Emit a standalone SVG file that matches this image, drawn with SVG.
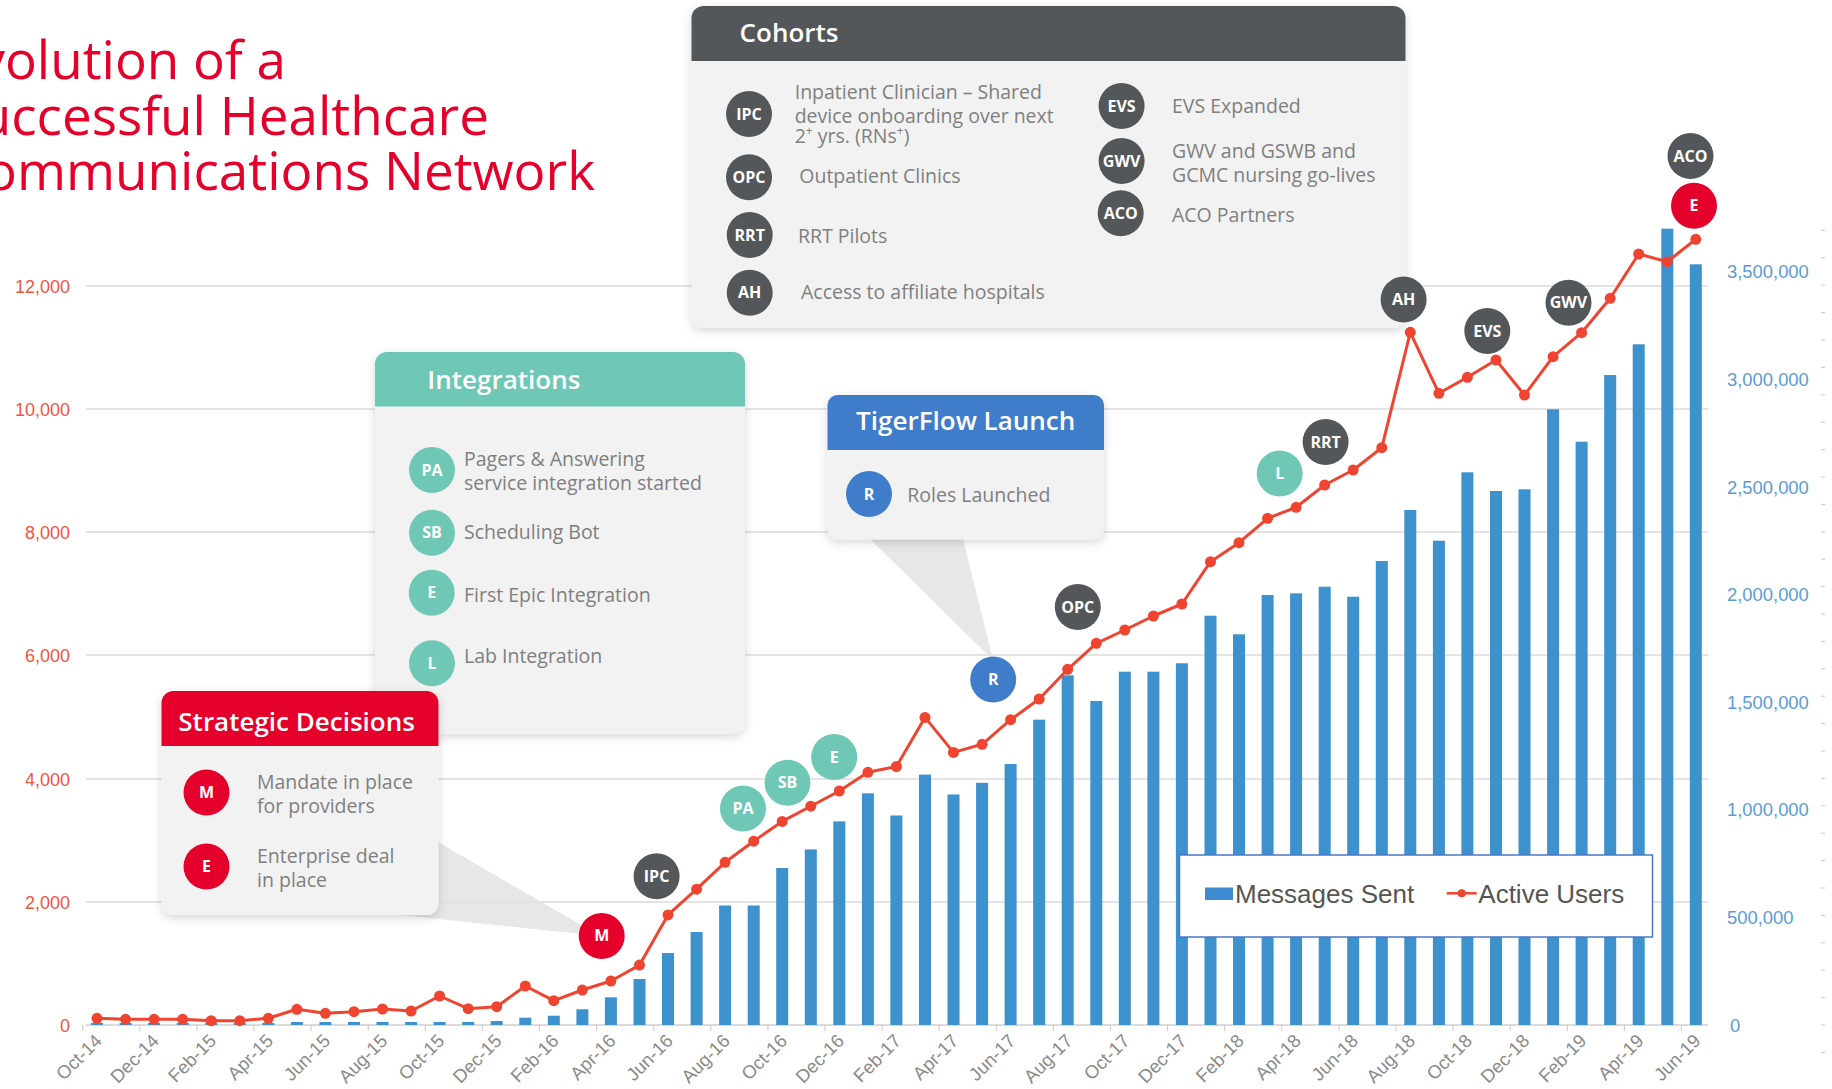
<svg xmlns="http://www.w3.org/2000/svg" width="1832" height="1089" viewBox="0 0 1832 1089">
<defs>
<style>
.grid{stroke:#dcdcdc;stroke-width:1.5;fill:none}
.bar{fill:#3d91cc}
.uline{fill:none;stroke:#ee4430;stroke-width:3;stroke-linejoin:round;marker-start:url(#dot);marker-mid:url(#dot);marker-end:url(#dot)}
.ly{font-family:"Liberation Sans",Arial,sans-serif;font-size:18px;fill:#f0553f;text-anchor:end}
.ry{font-family:"Liberation Sans",Arial,sans-serif;font-size:18.4px;fill:#5b9bd5}
.xl{font-family:"Liberation Sans",Arial,sans-serif;font-size:18.5px;fill:#8a8a8a;text-anchor:end}
.title{font-family:"Open Sans","Liberation Sans",sans-serif;font-size:53px;fill:#e4002b;text-anchor:end}
.hd{font-family:"Open Sans","Liberation Sans",sans-serif;font-size:26px;font-weight:600;fill:#fff}
.bt{font-family:"Open Sans","Liberation Sans",sans-serif;font-size:19.5px;fill:#7f7f7f}
.ml{font-family:"Open Sans","Liberation Sans",sans-serif;font-size:16px;font-weight:700;fill:#fff;text-anchor:middle}
.dk{fill:#53575a}.tl{fill:#6ec8b5}.bl{fill:#3f7cc9}.rd{fill:#e4002b}
.body{fill:#f2f2f2}
.ptr{fill:#e3e3e3;opacity:0.85}
.lg{font-family:"Liberation Sans",Arial,sans-serif;font-size:26px;fill:#555}
</style>
<marker id="dot" markerUnits="userSpaceOnUse" markerWidth="12" markerHeight="12" refX="6" refY="6" viewBox="0 0 12 12"><circle cx="6" cy="6" r="5.5" fill="#ee4430"/></marker>
<filter id="sh" x="-10%" y="-10%" width="120%" height="130%"><feDropShadow dx="0" dy="3" stdDeviation="5" flood-color="#000" flood-opacity="0.16"/></filter>
</defs>
<rect width="1832" height="1089" fill="#fff"/>

<g id="title">
<text class="title" x="286" y="79">Evolution of a</text>
<text class="title" x="489" y="135">Successful Healthcare</text>
<text class="title" x="595" y="190">Communications Network</text>
</g>

<g id="axes">
<path class="grid" d="M86 286H1708M86 409H1708M86 532H1708M86 655H1708M86 779H1708M86 902H1708"/>
<path d="M86 1025H1708" stroke="#cfcfcf" stroke-width="1.5"/>
<path d="M82.7 1025v6M139.8 1025v6M196.9 1025v6M254 1025v6M311.1 1025v6M368.2 1025v6M425.3 1025v6M482.4 1025v6M539.5 1025v6M596.6 1025v6M653.7 1025v6M710.8 1025v6M767.9 1025v6M825 1025v6M882.1 1025v6M939.2 1025v6M996.3 1025v6M1053.4 1025v6M1110.5 1025v6M1167.6 1025v6M1224.7 1025v6M1281.8 1025v6M1338.9 1025v6M1396 1025v6M1453.1 1025v6M1510.2 1025v6M1567.3 1025v6M1624.4 1025v6M1681.5 1025v6" stroke="#cfcfcf" stroke-width="1.2"/>
<path d="M1821 1052.4h4M1821 1025h4M1821 997.6h4M1821 970.2h4M1821 942.8h4M1821 915.4h4M1821 888h4M1821 860.6h4M1821 833.2h4M1821 805.8h4M1821 778.4h4M1821 751h4M1821 723.6h4M1821 696.2h4M1821 668.8h4M1821 641.4h4M1821 614h4M1821 586.6h4M1821 559.2h4M1821 531.8h4M1821 504.4h4M1821 477h4M1821 449.6h4M1821 422.2h4M1821 394.8h4M1821 367.4h4M1821 340h4M1821 312.6h4M1821 285.2h4M1821 257.8h4M1821 230.4h4" stroke="#c8c8c8" stroke-width="1"/>
<text class="ly" x="70" y="292.5">12,000</text>
<text class="ly" x="70" y="415.5">10,000</text>
<text class="ly" x="70" y="538.5">8,000</text>
<text class="ly" x="70" y="661.5">6,000</text>
<text class="ly" x="70" y="785.5">4,000</text>
<text class="ly" x="70" y="908.5">2,000</text>
<text class="ly" x="70" y="1031.5">0</text>
<text class="ry" x="1727" y="278.3">3,500,000</text>
<text class="ry" x="1727" y="385.9">3,000,000</text>
<text class="ry" x="1727" y="493.5">2,500,000</text>
<text class="ry" x="1727" y="601.1">2,000,000</text>
<text class="ry" x="1727" y="708.7">1,500,000</text>
<text class="ry" x="1727" y="816.3">1,000,000</text>
<text class="ry" x="1727" y="923.9">500,000</text>
<text class="ry" x="1730" y="1031.5">0</text>
<g id="xlabels">
<text class="xl" transform="translate(103,1042) rotate(-45)">Oct-14</text>
<text class="xl" transform="translate(160.1,1042) rotate(-45)">Dec-14</text>
<text class="xl" transform="translate(217.2,1042) rotate(-45)">Feb-15</text>
<text class="xl" transform="translate(274.3,1042) rotate(-45)">Apr-15</text>
<text class="xl" transform="translate(331.4,1042) rotate(-45)">Jun-15</text>
<text class="xl" transform="translate(388.5,1042) rotate(-45)">Aug-15</text>
<text class="xl" transform="translate(445.6,1042) rotate(-45)">Oct-15</text>
<text class="xl" transform="translate(502.7,1042) rotate(-45)">Dec-15</text>
<text class="xl" transform="translate(559.8,1042) rotate(-45)">Feb-16</text>
<text class="xl" transform="translate(616.9,1042) rotate(-45)">Apr-16</text>
<text class="xl" transform="translate(674,1042) rotate(-45)">Jun-16</text>
<text class="xl" transform="translate(731.1,1042) rotate(-45)">Aug-16</text>
<text class="xl" transform="translate(788.2,1042) rotate(-45)">Oct-16</text>
<text class="xl" transform="translate(845.3,1042) rotate(-45)">Dec-16</text>
<text class="xl" transform="translate(902.4,1042) rotate(-45)">Feb-17</text>
<text class="xl" transform="translate(959.5,1042) rotate(-45)">Apr-17</text>
<text class="xl" transform="translate(1016.6,1042) rotate(-45)">Jun-17</text>
<text class="xl" transform="translate(1073.7,1042) rotate(-45)">Aug-17</text>
<text class="xl" transform="translate(1130.8,1042) rotate(-45)">Oct-17</text>
<text class="xl" transform="translate(1187.9,1042) rotate(-45)">Dec-17</text>
<text class="xl" transform="translate(1245,1042) rotate(-45)">Feb-18</text>
<text class="xl" transform="translate(1302.1,1042) rotate(-45)">Apr-18</text>
<text class="xl" transform="translate(1359.2,1042) rotate(-45)">Jun-18</text>
<text class="xl" transform="translate(1416.3,1042) rotate(-45)">Aug-18</text>
<text class="xl" transform="translate(1473.4,1042) rotate(-45)">Oct-18</text>
<text class="xl" transform="translate(1530.5,1042) rotate(-45)">Dec-18</text>
<text class="xl" transform="translate(1587.6,1042) rotate(-45)">Feb-19</text>
<text class="xl" transform="translate(1644.7,1042) rotate(-45)">Apr-19</text>
<text class="xl" transform="translate(1701.8,1042) rotate(-45)">Jun-19</text>
</g>
</g>

<g id="bars">
<rect class="bar" x="91" y="1023" width="12" height="2"/>
<rect class="bar" x="119.6" y="1023" width="12" height="2"/>
<rect class="bar" x="148.1" y="1023" width="12" height="2"/>
<rect class="bar" x="176.7" y="1023" width="12" height="2"/>
<rect class="bar" x="205.2" y="1023" width="12" height="2"/>
<rect class="bar" x="233.8" y="1023" width="12" height="2"/>
<rect class="bar" x="262.3" y="1023" width="12" height="2"/>
<rect class="bar" x="290.9" y="1022" width="12" height="3"/>
<rect class="bar" x="319.4" y="1022" width="12" height="3"/>
<rect class="bar" x="348" y="1022" width="12" height="3"/>
<rect class="bar" x="376.5" y="1022" width="12" height="3"/>
<rect class="bar" x="405.1" y="1022" width="12" height="3"/>
<rect class="bar" x="433.6" y="1022" width="12" height="3"/>
<rect class="bar" x="462.2" y="1022" width="12" height="3"/>
<rect class="bar" x="490.7" y="1021" width="12" height="4"/>
<rect class="bar" x="519.3" y="1017.7" width="12" height="7.3"/>
<rect class="bar" x="547.8" y="1015.7" width="12" height="9.3"/>
<rect class="bar" x="576.4" y="1009.3" width="12" height="15.7"/>
<rect class="bar" x="604.9" y="997.3" width="12" height="27.7"/>
<rect class="bar" x="633.5" y="979" width="12" height="46"/>
<rect class="bar" x="662" y="953" width="12" height="72"/>
<rect class="bar" x="690.6" y="932" width="12" height="93"/>
<rect class="bar" x="719.1" y="905.5" width="12" height="119.5"/>
<rect class="bar" x="747.7" y="905.5" width="12" height="119.5"/>
<rect class="bar" x="776.2" y="868" width="12" height="157"/>
<rect class="bar" x="804.8" y="849.4" width="12" height="175.6"/>
<rect class="bar" x="833.3" y="821.4" width="12" height="203.6"/>
<rect class="bar" x="861.9" y="793.3" width="12" height="231.7"/>
<rect class="bar" x="890.4" y="815.5" width="12" height="209.5"/>
<rect class="bar" x="919" y="774.6" width="12" height="250.4"/>
<rect class="bar" x="947.5" y="794.5" width="12" height="230.5"/>
<rect class="bar" x="976.1" y="782.8" width="12" height="242.2"/>
<rect class="bar" x="1004.6" y="764" width="12" height="261"/>
<rect class="bar" x="1033.2" y="719.7" width="12" height="305.3"/>
<rect class="bar" x="1061.7" y="675.3" width="12" height="349.7"/>
<rect class="bar" x="1090.3" y="701" width="12" height="324"/>
<rect class="bar" x="1118.8" y="671.7" width="12" height="353.3"/>
<rect class="bar" x="1147.4" y="671.7" width="12" height="353.3"/>
<rect class="bar" x="1175.9" y="663.3" width="12" height="361.7"/>
<rect class="bar" x="1204.5" y="615.7" width="12" height="409.3"/>
<rect class="bar" x="1233" y="634.3" width="12" height="390.7"/>
<rect class="bar" x="1261.6" y="595" width="12" height="430"/>
<rect class="bar" x="1290.1" y="593.3" width="12" height="431.7"/>
<rect class="bar" x="1318.7" y="586.7" width="12" height="438.3"/>
<rect class="bar" x="1347.2" y="596.7" width="12" height="428.3"/>
<rect class="bar" x="1375.8" y="561" width="12" height="464"/>
<rect class="bar" x="1404.3" y="510" width="12" height="515"/>
<rect class="bar" x="1432.9" y="540.7" width="12" height="484.3"/>
<rect class="bar" x="1461.4" y="472.3" width="12" height="552.7"/>
<rect class="bar" x="1490" y="491" width="12" height="534"/>
<rect class="bar" x="1518.5" y="489.3" width="12" height="535.7"/>
<rect class="bar" x="1547.1" y="409.3" width="12" height="615.7"/>
<rect class="bar" x="1575.6" y="441.7" width="12" height="583.3"/>
<rect class="bar" x="1604.2" y="375" width="12" height="650"/>
<rect class="bar" x="1632.7" y="344.3" width="12" height="680.7"/>
<rect class="bar" x="1661.3" y="228.7" width="12" height="796.3"/>
<rect class="bar" x="1689.8" y="264.3" width="12" height="760.7"/>
</g>

<g id="connectors">
<polyline class="uline" points="97,1018.3 125.6,1019.3 154.1,1019.3 182.7,1019.3 211.2,1020.7 239.8,1020.7 268.3,1018.3 296.9,1009.3 325.4,1013.3 354,1011.7 382.5,1009 411.1,1011 439.6,996 468.2,1008.7 496.7,1006.7 525.3,986 553.8,1000.7 582.4,990 610.9,981 639.5,965.1 668,914.9 696.6,889.2 725.1,862.3 753.7,841.2 782.2,821.4 810.8,806.2 839.3,791 867.9,772.3 896.4,766.5 925,717.4 953.5,752.4 982.1,744.3 1010.6,719.7 1039.2,699 1067.7,669.3 1096.3,643.3 1124.8,630 1153.4,616 1181.9,604 1210.5,561.7 1239,542.7 1267.6,518.3 1296.1,507.3 1324.7,485 1353.2,470 1381.8,447.7 1410.3,332.3 1438.9,393.3 1467.4,377.3 1496,360 1524.5,395 1553.1,356.7 1581.6,332.7 1610.2,298.3 1638.7,254 1667.3,261.7 1695.8,239.3"/>
<polygon class="ptr" points="438,842 400,915 600,936"/>
<polygon class="ptr" points="870,539 963,539 993,660"/>
</g>

<g id="legend">
<rect x="1179.5" y="855" width="473" height="82" fill="#fff" stroke="#4a78c8" stroke-width="1.5"/>
<rect x="1205" y="887.5" width="28" height="12.5" fill="#3d8bd0"/>
<text class="lg" x="1235" y="903">Messages Sent</text>
<path d="M1446.7 893.3H1476.7" stroke="#ee4430" stroke-width="2.5"/>
<circle cx="1461.7" cy="893.3" r="4" fill="#ee4430"/>
<text class="lg" x="1478.3" y="903">Active Users</text>
</g>

<g id="integrations">
<rect class="body" x="375" y="352" width="370" height="381.5" rx="12" filter="url(#sh)"/>
<path class="tl" d="M375 406.5V364a12 12 0 0 1 12-12H733a12 12 0 0 1 12 12V406.5Z"/>
<text class="hd" x="427.3" y="389.3">Integrations</text>
<circle class="tl" cx="432" cy="470" r="23"/><text class="ml" x="432" y="475.5">PA</text>
<text class="bt" x="464" y="465.5">Pagers &amp; Answering</text>
<text class="bt" x="464" y="490">service integration started</text>
<circle class="tl" cx="432" cy="532.7" r="23"/><text class="ml" x="432" y="538.2">SB</text>
<text class="bt" x="464" y="538.5">Scheduling Bot</text>
<circle class="tl" cx="431.7" cy="592.7" r="23"/><text class="ml" x="431.7" y="598.2">E</text>
<text class="bt" x="464" y="601.5">First Epic Integration</text>
<circle class="tl" cx="432" cy="663.3" r="23"/><text class="ml" x="432" y="668.8">L</text>
<text class="bt" x="464" y="662.5">Lab Integration</text>
</g>

<g id="strategic">
<rect class="body" x="161.5" y="691" width="277" height="224" rx="12" filter="url(#sh)"/>
<path class="rd" d="M161.5 746V703a12 12 0 0 1 12-12H426.5a12 12 0 0 1 12 12V746Z"/>
<text class="hd" x="178.3" y="730.7">Strategic Decisions</text>
<circle class="rd" cx="206.5" cy="792.5" r="23"/><text class="ml" x="206.5" y="798">M</text>
<text class="bt" x="257" y="789">Mandate in place</text>
<text class="bt" x="257" y="813">for providers</text>
<circle class="rd" cx="206.5" cy="866.5" r="23"/><text class="ml" x="206.5" y="872">E</text>
<text class="bt" x="257" y="863">Enterprise deal</text>
<text class="bt" x="257" y="886.5">in place</text>
</g>

<g id="cohorts">
<rect class="body" x="691.5" y="6" width="714" height="322" rx="12" filter="url(#sh)"/>
<path class="dk" d="M691.5 61V18a12 12 0 0 1 12-12H1393.5a12 12 0 0 1 12 12V61Z"/>
<text class="hd" x="739.6" y="41.7">Cohorts</text>
<circle class="dk" cx="749" cy="114" r="23"/><text class="ml" x="749" y="119.5">IPC</text>
<text class="bt" x="794.7" y="98.5">Inpatient Clinician – Shared</text>
<text class="bt" x="794.7" y="122.5">device onboarding over next</text>
<text class="bt" x="794.7" y="143">2<tspan font-size="12" baseline-shift="super">+</tspan> yrs. (RNs<tspan font-size="12" baseline-shift="super">+</tspan>)</text>
<circle class="dk" cx="749" cy="177.3" r="23"/><text class="ml" x="749" y="182.8">OPC</text>
<text class="bt" x="799.3" y="183">Outpatient Clinics</text>
<circle class="dk" cx="749.7" cy="235" r="23"/><text class="ml" x="749.7" y="240.5">RRT</text>
<text class="bt" x="797.9" y="243">RRT Pilots</text>
<circle class="dk" cx="749.7" cy="292.7" r="23"/><text class="ml" x="749.7" y="298.2">AH</text>
<text class="bt" x="801" y="298.5">Access to affiliate hospitals</text>
<circle class="dk" cx="1121.6" cy="106" r="23"/><text class="ml" x="1121.6" y="111.5">EVS</text>
<text class="bt" x="1172" y="113">EVS Expanded</text>
<circle class="dk" cx="1121.6" cy="161" r="23"/><text class="ml" x="1121.6" y="166.5">GWV</text>
<text class="bt" x="1172" y="158">GWV and GSWB and</text>
<text class="bt" x="1172" y="181.5">GCMC nursing go-lives</text>
<circle class="dk" cx="1120.7" cy="213.3" r="23"/><text class="ml" x="1120.7" y="218.8">ACO</text>
<text class="bt" x="1172" y="222">ACO Partners</text>
</g>

<g id="tigerflow">
<rect class="body" x="827.5" y="395" width="276.5" height="144.5" rx="10" filter="url(#sh)"/>
<path class="bl" d="M827.5 450V405a10 10 0 0 1 10-10H1094a10 10 0 0 1 10 10V450Z"/>
<text class="hd" x="965.7" y="430" text-anchor="middle">TigerFlow Launch</text>
<circle class="bl" cx="869" cy="494" r="23"/><text class="ml" x="869" y="499.5">R</text>
<text class="bt" x="907.3" y="502">Roles Launched</text>
</g>

<g id="markers">
<g id="m-M"><circle class="rd" cx="601.7" cy="935.9" r="23"/><text class="ml" x="601.7" y="941.4">M</text></g>
<g id="m-IPC"><circle class="dk" cx="656.6" cy="876.3" r="23"/><text class="ml" x="656.6" y="881.8">IPC</text></g>
<g id="m-PA"><circle class="tl" cx="743" cy="808.5" r="23"/><text class="ml" x="743" y="814">PA</text></g>
<g id="m-SB"><circle class="tl" cx="787.5" cy="782.8" r="23"/><text class="ml" x="787.5" y="788.3">SB</text></g>
<g id="m-E1"><circle class="tl" cx="834.2" cy="757.1" r="23"/><text class="ml" x="834.2" y="762.6">E</text></g>
<g id="m-R"><circle class="bl" cx="993.2" cy="679.5" r="23"/><text class="ml" x="993.2" y="685">R</text></g>
<g id="m-OPC"><circle class="dk" cx="1077.8" cy="607" r="23"/><text class="ml" x="1077.8" y="612.5">OPC</text></g>
<g id="m-L"><circle class="tl" cx="1279.7" cy="473.5" r="23"/><text class="ml" x="1279.7" y="479">L</text></g>
<g id="m-RRT"><circle class="dk" cx="1325.6" cy="442" r="23"/><text class="ml" x="1325.6" y="447.5">RRT</text></g>
<g id="m-AH"><circle class="dk" cx="1403.6" cy="299.5" r="23"/><text class="ml" x="1403.6" y="305">AH</text></g>
<g id="m-EVS"><circle class="dk" cx="1487.3" cy="331" r="23"/><text class="ml" x="1487.3" y="336.5">EVS</text></g>
<g id="m-GWV"><circle class="dk" cx="1568.5" cy="302.7" r="23"/><text class="ml" x="1568.5" y="308.2">GWV</text></g>
<g id="m-ACO"><circle class="dk" cx="1690.5" cy="156" r="23"/><text class="ml" x="1690.5" y="161.5">ACO</text></g>
<g id="m-E2"><circle class="rd" cx="1694" cy="205.8" r="23"/><text class="ml" x="1694" y="211.3">E</text></g>
</g>
</svg>
